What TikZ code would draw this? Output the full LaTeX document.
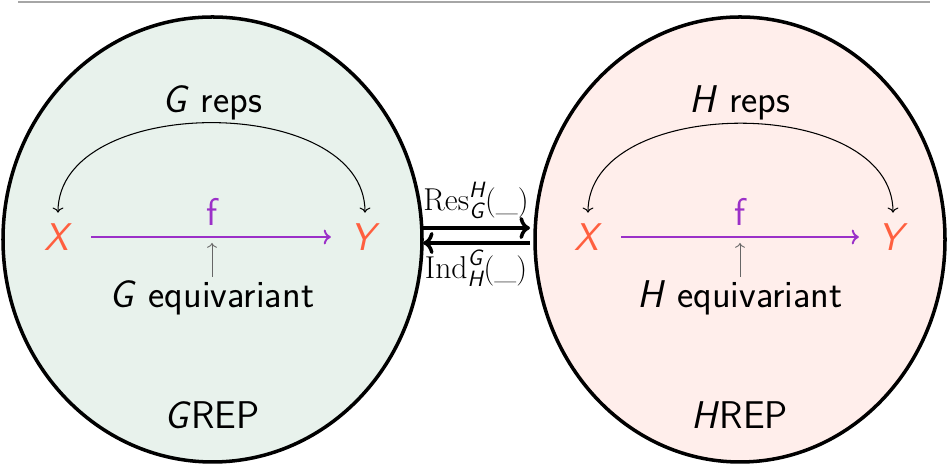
\documentclass[tikz,border=0pt]{standalone}
\usepackage{fontspec}
\usepackage{amsmath}
\usepackage{tikz}
\usetikzlibrary{calc,arrows.meta}
\definecolor{objcol}{HTML}{FF5F3F}
\definecolor{mapcol}{HTML}{9B30C8}
\definecolor{gfill}{HTML}{E8F2EC}
\definecolor{hfill}{HTML}{FFEEEB}
\newcommand{\sit}[1]{\text{\sffamily\itshape #1}}

\begin{document}
\begin{tikzpicture}[txt/.style={font=\sffamily\fontsize{22}{26}\selectfont, inner sep=2pt},
  obj/.style={txt, text=objcol},
  blob/.style={line width=2pt},
  fmap/.style={->, mapcol, line width=1.1pt, shorten <=0.31cm, shorten >=0.31cm},
  op/.style={font=\fontsize{18}{22}\selectfont, inner sep=1pt}]
\useasboundingbox (0,0) rectangle (18.94,9.28);
\draw[gray!70, line width=0.6pt] (0.36,9.24) -- (18.6,9.24);
\draw[blob, fill=gfill] (4.25,4.49) ellipse [x radius=4.19, y radius=4.45];
\draw[blob, fill=hfill] (14.8,4.49) ellipse [x radius=4.1, y radius=4.45];

% G side
\node[txt] (greps) at (4.24,7.22) {\textit{G} reps};
\node[obj] (gx) at (1.16,4.54) {\textit{X}};
\node[obj] (gy) at (7.3,4.54) {\textit{Y}};
\node[txt, text=mapcol] (gf) at (4.24,5.04) {f};
\node[txt] (geq) at (4.24,3.32) {\textit{G} equivariant};
\node[txt] (grep) at (4.24,0.98) {\textit{G}REP};
\coordinate (gtip) at (4.24,4.42);
\draw[fmap] (gx) -- (gy);
\draw[->, black!60, line width=0.5pt] (geq.north) -- (gtip);
\draw[<->, line width=0.6pt] ([yshift=4pt]gx.north) to[out=90, in=90] ([yshift=4pt]gy.north);

% H side
\node[txt] (hreps) at (14.8,7.22) {\textit{H} reps};
\node[obj] (hx) at (11.76,4.54) {\textit{X}};
\node[obj] (hy) at (17.86,4.54) {\textit{Y}};
\node[txt, text=mapcol] (hf) at (14.8,5.04) {f};
\node[txt] (heq) at (14.8,3.32) {\textit{H} equivariant};
\node[txt] (hrep) at (14.8,0.98) {\textit{H}REP};
\coordinate (htip) at (14.8,4.42);
\draw[fmap] (hx) -- (hy);
\draw[->, black!60, line width=0.5pt] (heq.north) -- (htip);
\draw[<->, line width=0.6pt] ([yshift=4pt]hx.north) to[out=90, in=90] ([yshift=4pt]hy.north);

% res / ind
\node[op] (res) at (9.52,5.28) {$\mathrm{Res}^{\sit{H}}_{\sit{G}}(\_)$};
\node[op] (ind) at (9.52,3.92) {$\mathrm{Ind}^{\sit{G}}_{\sit{H}}(\_)$};
\coordinate (ra) at (8.46,4.72);
\coordinate (rb) at (10.6,4.72);
\coordinate (ia) at (10.6,4.42);
\coordinate (ib) at (8.46,4.42);
\draw[->, line width=2pt] (ra) -- (rb);
\draw[->, line width=2pt] (ia) -- (ib);
\end{tikzpicture}
\end{document}
